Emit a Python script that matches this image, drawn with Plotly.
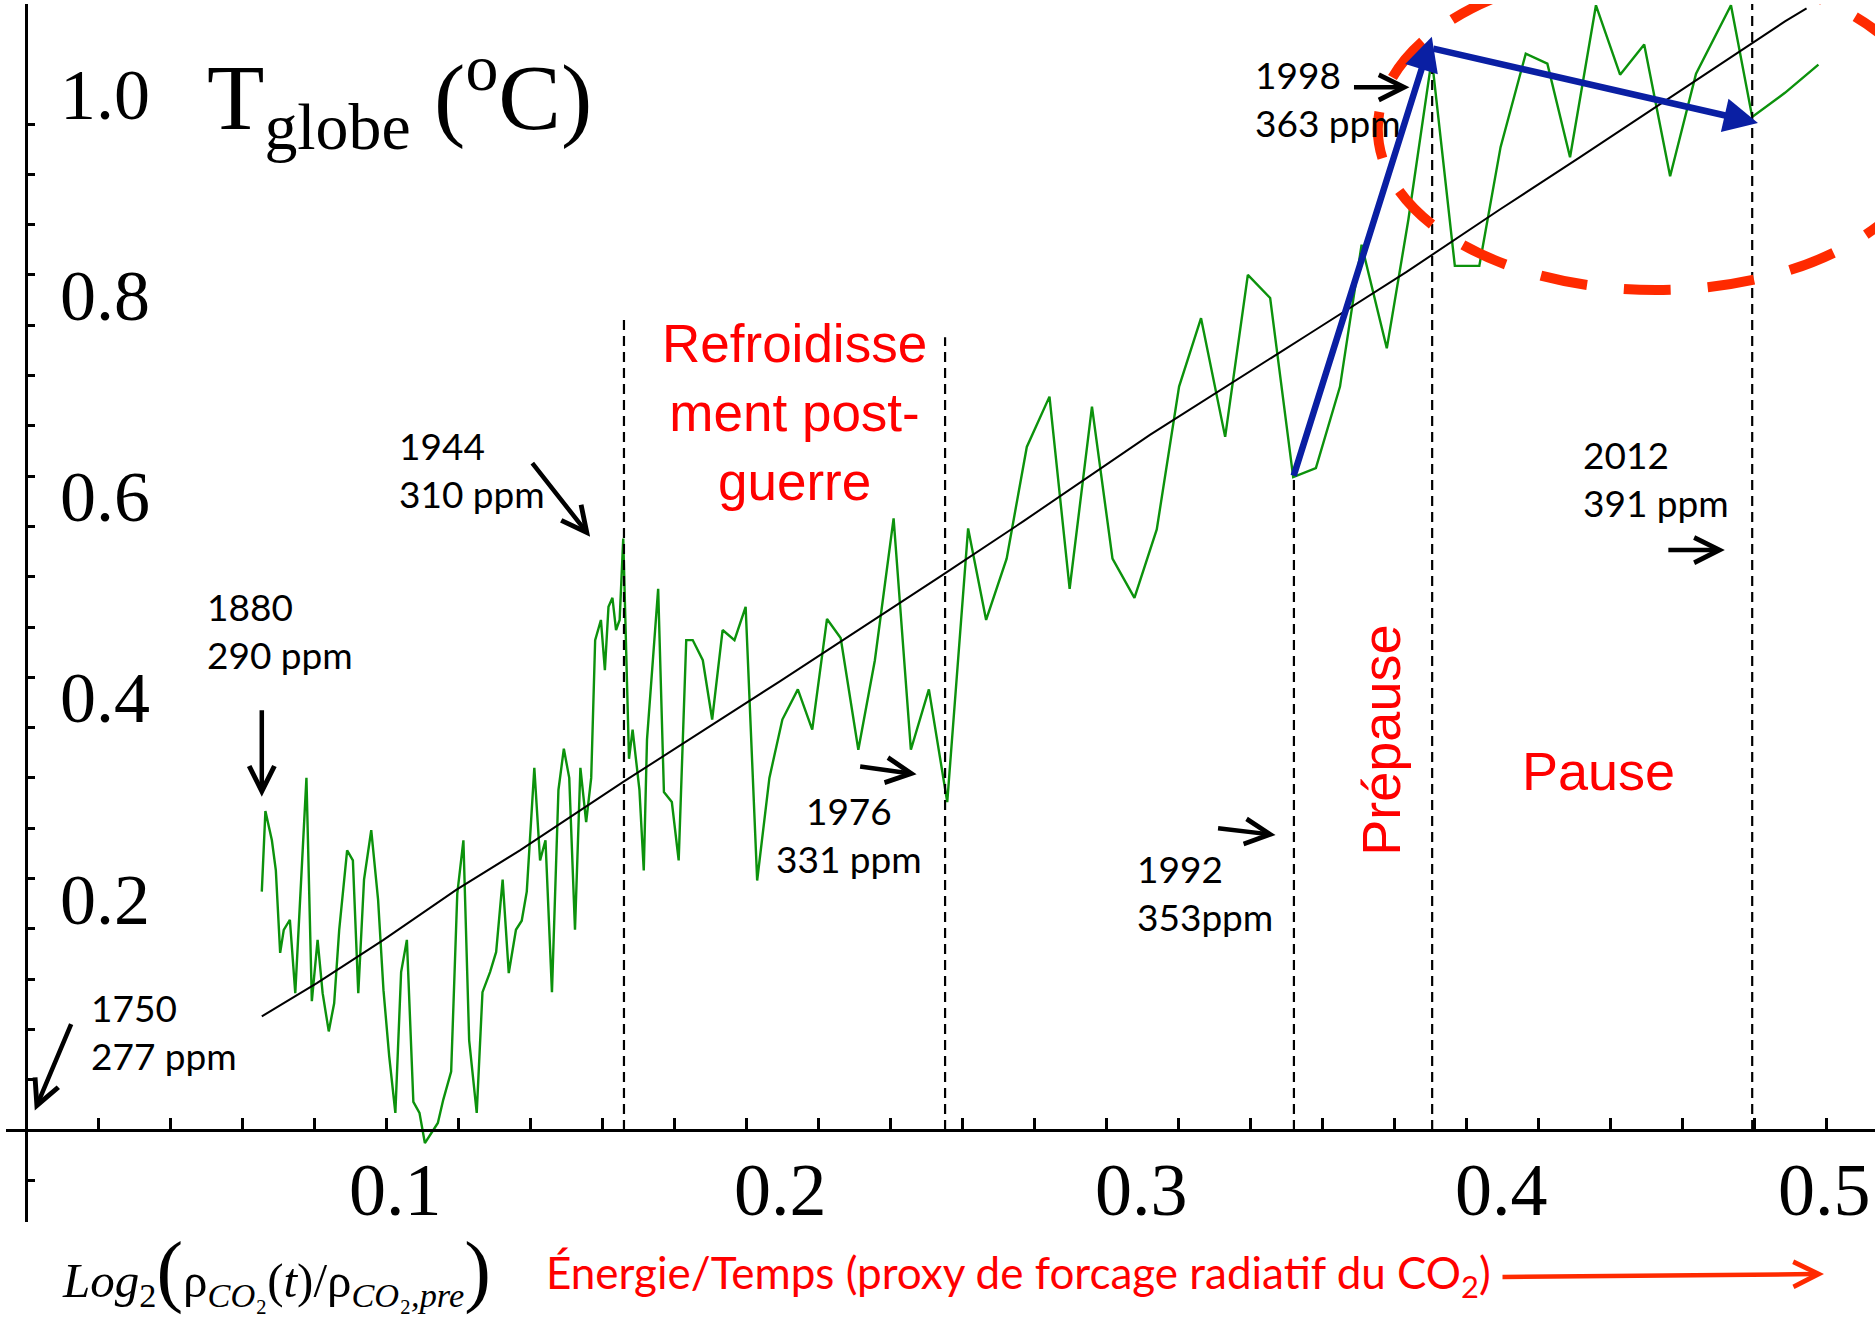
import plotly.graph_objects as go

# ---------------- data ----------------
# x : Log2(rho_CO2(t)/rho_CO2,pre) ; y : global temperature anomaly (deg C)
co2_forcing = [
    0.0655, 0.0665, 0.0683, 0.0694, 0.0706, 0.0716, 0.0733, 0.0748, 0.0779, 0.0794,
    0.0810, 0.0824, 0.0841, 0.0856, 0.0870, 0.0892, 0.0908, 0.0923, 0.0939, 0.0959,
    0.0978, 0.0993, 0.1009, 0.1026, 0.1042, 0.1058, 0.1076, 0.1093, 0.1108, 0.1127,
    0.1144, 0.1159, 0.1181, 0.1198, 0.1215, 0.1231, 0.1252, 0.1268, 0.1289, 0.1306,
    0.1324, 0.1341, 0.1361, 0.1377, 0.1391, 0.1412, 0.1428, 0.1443, 0.1461, 0.1479,
    0.1494, 0.1509, 0.1525, 0.1540, 0.1556, 0.1570, 0.1581, 0.1597, 0.1608, 0.1618,
    0.1629, 0.1639, 0.1649, 0.1659, 0.1675, 0.1685, 0.1704, 0.1716, 0.1725, 0.1756,
    0.1772, 0.1794, 0.1813, 0.1834, 0.1852, 0.1880, 0.1906, 0.1935, 0.1968, 0.1999,
    0.2031, 0.2065, 0.2101, 0.2144, 0.2184, 0.2225, 0.2263, 0.2312, 0.2358, 0.2410,
    0.2458, 0.2508, 0.2559, 0.2617, 0.2667, 0.2724, 0.2780, 0.2843, 0.2899, 0.2961,
    0.3018, 0.3079, 0.3141, 0.3203, 0.3264, 0.3331, 0.3394, 0.3456, 0.3520, 0.3583,
    0.3650, 0.3710, 0.3780, 0.3840, 0.3905, 0.3969, 0.4037, 0.4096, 0.4166, 0.4226,
    0.4289, 0.4361, 0.4428, 0.4495, 0.4567, 0.4639, 0.4736, 0.4795, 0.4886, 0.4979,
]
temp_anomaly = [
    0.237, 0.317, 0.288, 0.258, 0.176, 0.199, 0.209, 0.136, 0.350, 0.128,
    0.189, 0.136, 0.098, 0.126, 0.199, 0.278, 0.268, 0.136, 0.249, 0.298,
    0.229, 0.139, 0.073, 0.017, 0.157, 0.189, 0.028, 0.017, -0.013, -0.003,
    0.007, 0.030, 0.058, 0.235, 0.288, 0.089, 0.017, 0.137, 0.157, 0.177,
    0.249, 0.156, 0.199, 0.208, 0.237, 0.360, 0.268, 0.288, 0.137, 0.338,
    0.379, 0.350, 0.199, 0.360, 0.306, 0.350, 0.487, 0.507, 0.457, 0.520,
    0.529, 0.497, 0.507, 0.588, 0.369, 0.398, 0.338, 0.258, 0.388, 0.538,
    0.336, 0.326, 0.268, 0.487, 0.487, 0.467, 0.408, 0.497, 0.487, 0.520,
    0.248, 0.350, 0.408, 0.438, 0.398, 0.508, 0.489, 0.378, 0.467, 0.608,
    0.378, 0.438, 0.326, 0.598, 0.507, 0.568, 0.679, 0.729, 0.538, 0.719,
    0.568, 0.529, 0.597, 0.739, 0.807, 0.689, 0.850, 0.827, 0.649, 0.658,
    0.739, 0.880, 0.777, 0.905, 1.065, 0.859, 0.859, 0.977, 1.070, 1.060,
    0.967, 1.118, 1.049, 1.079, 0.948, 1.050, 1.118, 1.007, 1.031, 1.059,
]
trend_x = [0.0655, 0.0808, 0.0993, 0.1196, 0.1372, 0.1659, 0.2094, 0.2539,
           0.2770, 0.3122, 0.3567, 0.3835, 0.4094, 0.4317, 0.4886, 0.4946]
trend_y = [0.113, 0.146, 0.189, 0.239, 0.278, 0.346, 0.446, 0.550,
           0.605, 0.691, 0.792, 0.853, 0.915, 0.967, 1.102, 1.115]

ytick_label_vals = [0.2, 0.4, 0.6, 0.8, 1.0]
ytick_label_text = ["0.2", "0.4", "0.6", "0.8", "1.0"]
xtick_label_vals = [0.1, 0.2, 0.3, 0.4, 0.5]
xtick_label_text = ["0.1", "0.2", "0.3", "0.4", "0.5"]

# period boundaries (dashed verticals): x and top of each line
period_x = [0.1661, 0.2553, 0.3522, 0.3906, 0.4795]
period_top = [0.808, 0.788, 0.649, 1.065, 1.125]

# year / CO2 labels
year_text = ["1750<br>277 ppm", "1880<br>290 ppm", "1944<br>310 ppm",
             "1976<br>331 ppm", "1992<br>353ppm", "1998<br>363 ppm", "2012<br>391 ppm"]

# ---------------- layout geometry ----------------
W, H = 1875, 1318
X_ORIGIN_PX, Y_ORIGIN_PX = 26, 1130
PX_PER_X, PX_PER_Y = 3600.0, 1006.0
X_LEFT_PX, Y_TOP_PX, Y_BOT_PX = 6, 4, 1222

xr = [(X_LEFT_PX - X_ORIGIN_PX) / PX_PER_X, (W - X_ORIGIN_PX) / PX_PER_X]
yr = [(Y_ORIGIN_PX - Y_BOT_PX) / PX_PER_Y, (Y_ORIGIN_PX - Y_TOP_PX) / PX_PER_Y]

GREEN = "#0c920c"
BLUE = "#0a1fa3"
RED = "#ff0000"
ORANGE_RED = "#ff2a00"
SERIF = "Liberation Serif"
SANS_LABEL = "Lato"
SANS_RED = "Liberation Sans"

fig = go.Figure()
fig.add_trace(go.Scatter(x=co2_forcing, y=temp_anomaly, mode="lines",
                         line=dict(color=GREEN, width=2.4), hoverinfo="skip"))
fig.add_trace(go.Scatter(x=trend_x, y=trend_y, mode="lines",
                         line=dict(color="black", width=2), hoverinfo="skip"))

shapes = []
for px_, top in zip(period_x, period_top):
    shapes.append(dict(type="line", xref="x", yref="y", x0=px_, x1=px_, y0=0, y1=top,
                       line=dict(color="black", width=2.2, dash="10px,6px")))
# red dashed ellipse around the pause
shapes.append(dict(type="circle", xref="x", yref="y",
                   x0=0.3755, x1=0.5300, y0=0.8350, y1=1.1550,
                   line=dict(color=ORANGE_RED, width=10, dash="47px,37px")))

ann = []
# y tick labels
for v, t in zip(ytick_label_vals, ytick_label_text):
    ann.append(dict(x=0.0219, y=v + 0.029, text=t, showarrow=False,
                    xanchor="center", yanchor="middle",
                    font=dict(family=SERIF, size=72, color="black")))
# x tick labels
x_label_shift = [9, 34, 35, 35, -2]
for v, t, s in zip(xtick_label_vals, xtick_label_text, x_label_shift):
    ann.append(dict(x=v, y=-0.0596, xshift=s, text=t, showarrow=False,
                    xanchor="center", yanchor="middle",
                    font=dict(family=SERIF, size=74, color="black")))
# title
ann.append(dict(x=0.0497, y=1.027, text="T<sub>globe</sub> (<sup>o</sup>C)", showarrow=False,
                xanchor="left", yanchor="middle",
                font=dict(family=SERIF, size=94, color="black")))
# year labels
year_pos = [(0.0175, 0.0979, "left"), (0.0497, 0.497, "left"), (0.1031, 0.657, "left"),
            (0.2286, 0.294, "center"), (0.3081, 0.236, "left"), (0.3408, 1.025, "left"),
            (0.4319, 0.648, "left")]
for t, (x, y, xa) in zip(year_text, year_pos):
    ann.append(dict(x=x, y=y, text=t, showarrow=False, xanchor=xa, yanchor="middle",
                    align=xa, font=dict(family=SANS_LABEL, size=37, color="black")))
# black arrows (head position, tail offset in px)
black_arrows = [(0.00244, 0.0193, 37, -88), (0.0655, 0.3313, 0, -88),
                (0.1567, 0.5898, -59, -75), (0.2474, 0.3536, -58, -8),
                (0.3471, 0.2932, -59, -7), (0.3843, 1.0365, -57, 0),
                (0.4719, 0.5765, -58, 0)]
for x, y, ax, ay in black_arrows:
    ann.append(dict(x=x, y=y, ax=ax, ay=ay, text="", showarrow=True,
                    arrowhead=5, arrowsize=1.1, arrowwidth=4.5, arrowcolor="black"))
# blue arrows (trend before / during pause)
blue_arrows = [(0.3905, 1.0868, 0.3520, 0.6488), (0.4811, 1.0010, 0.3905, 1.0753)]
for x, y, ax, ay in blue_arrows:
    ann.append(dict(x=x, y=y, ax=ax, ay=ay, axref="x", ayref="y", text="", showarrow=True,
                    arrowhead=2, arrowsize=1.05, arrowwidth=6.5, arrowcolor=BLUE))
# red period labels
ann.append(dict(x=0.2136, y=0.713, text="Refroidisse<br>ment post-<br>guerre", showarrow=False,
                xanchor="center", yanchor="middle", align="center",
                font=dict(family=SANS_RED, size=53, color=RED)))
ann.append(dict(x=0.4367, y=0.357, text="Pause", showarrow=False,
                xanchor="center", yanchor="middle",
                font=dict(family=SANS_RED, size=54, color=RED)))
ann.append(dict(x=0.3764, y=0.387, text="Prépause", showarrow=False, textangle=-90,
                xanchor="center", yanchor="middle",
                font=dict(family=SANS_RED, size=54, color=RED)))
# bottom caption (below the plotted range -> paper coordinates)
ann.append(dict(xref="paper", yref="paper", x=0.032, y=0.036,
                text=("<i>Log</i><sub>2</sub><span style='font-size:80px'>(</span>ρ<sub><i>CO</i>₂</sub>"
                      "(<i>t</i>)/ρ<sub><i>CO</i>₂<i>,pre</i></sub><span style='font-size:80px'>)</span>"),
                showarrow=False, xanchor="left", yanchor="middle",
                font=dict(family=SERIF, size=49, color="black")))
ann.append(dict(xref="paper", yref="paper", x=0.2901, y=0.0326,
                text="Énergie/Temps (proxy de forcage radiatif du CO<sub>2</sub>)",
                showarrow=False, xanchor="left", yanchor="middle",
                font=dict(family=SANS_LABEL, size=44, color=RED)))
ann.append(dict(xref="paper", yref="paper", x=0.9728, y=0.0334, ax=-323, ay=3, text="",
                showarrow=True, arrowhead=5, arrowsize=1.1, arrowwidth=4.5, arrowcolor=ORANGE_RED))

fig.update_layout(
    width=W, height=H, margin=dict(l=0, r=0, t=0, b=0),
    paper_bgcolor="white", plot_bgcolor="white", showlegend=False,
    shapes=shapes, annotations=ann,
    xaxis=dict(domain=[X_LEFT_PX / W, 1], range=xr, anchor="free",
               position=(H - Y_ORIGIN_PX) / H, showline=True, linecolor="black", linewidth=3,
               ticks="inside", ticklen=11, tickwidth=2.5, tickcolor="black",
               tickvals=[round(0.02 * i, 2) for i in range(26)], showticklabels=False,
               showgrid=False, zeroline=False, fixedrange=True),
    yaxis=dict(domain=[(H - Y_BOT_PX) / H, (H - Y_TOP_PX) / H], range=yr, anchor="free",
               position=X_ORIGIN_PX / W, showline=True, linecolor="black", linewidth=2.5,
               ticks="inside", ticklen=7, tickwidth=2.5, tickcolor="black",
               tickvals=[round(0.05 * i, 2) for i in range(-1, 21)], showticklabels=False,
               showgrid=False, zeroline=False, fixedrange=True),
)
fig.write_html("out.html", config={"displayModeBar": False},
               post_script="document.body.style.margin='0';document.body.style.overflow='hidden';")
